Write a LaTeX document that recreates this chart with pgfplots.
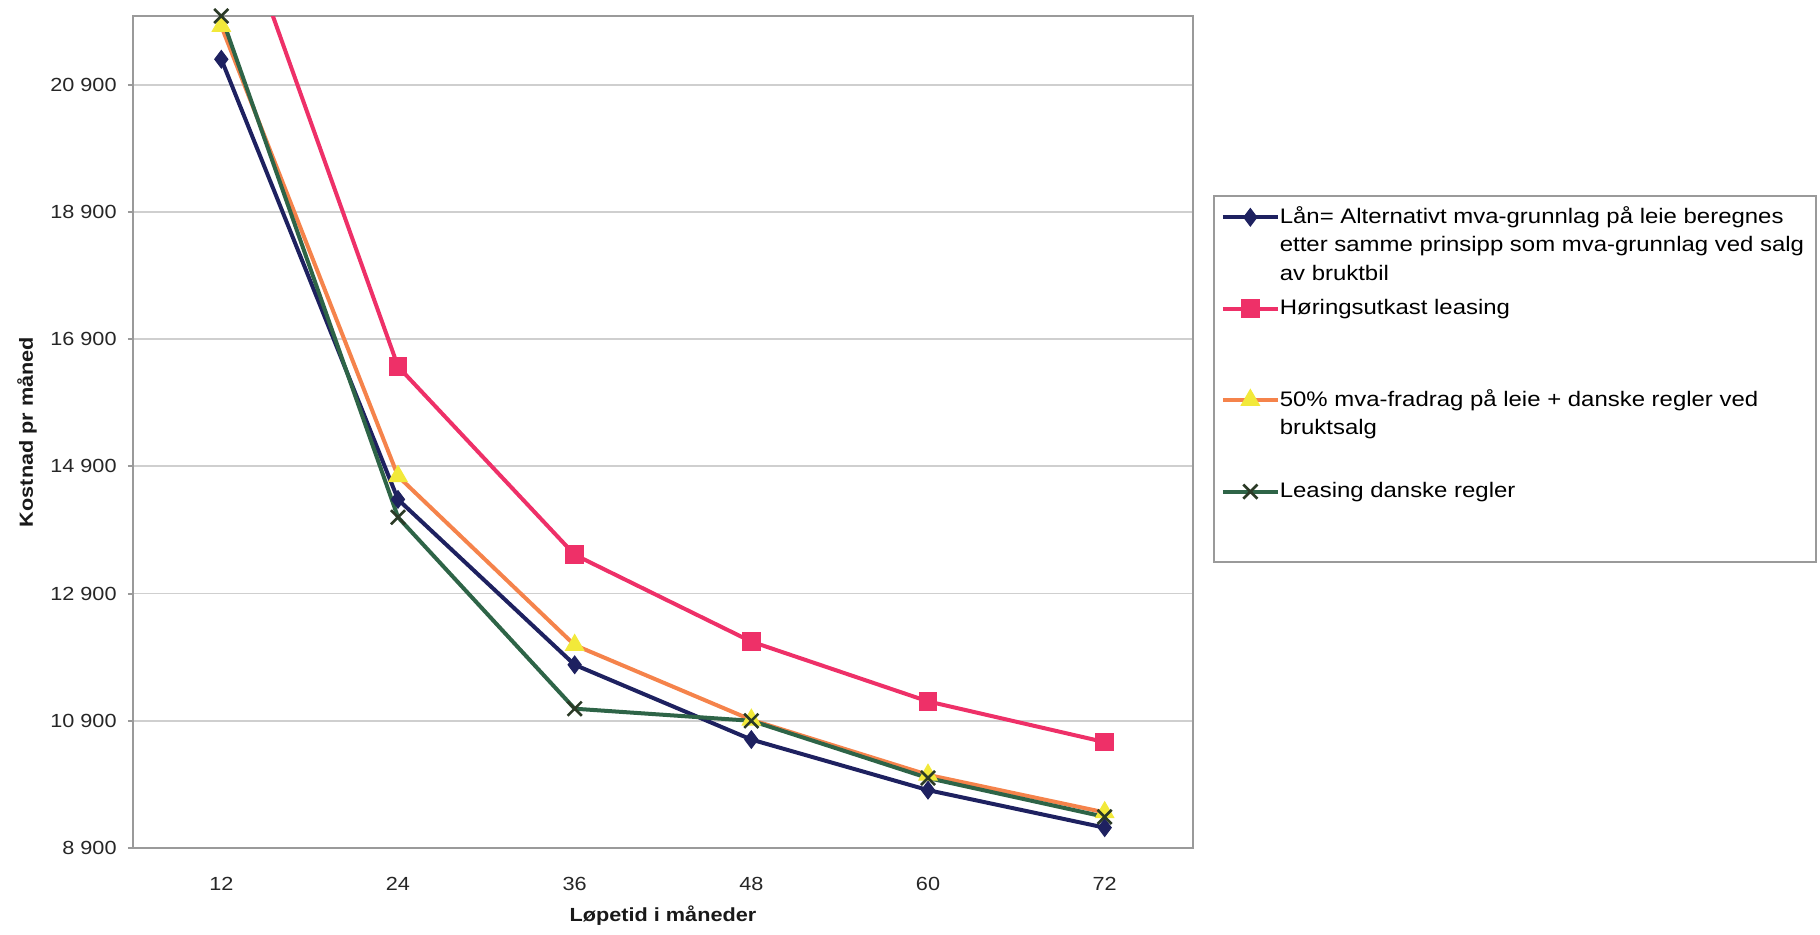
\documentclass[border=0pt]{standalone}
\usepackage{fontspec}
\setmainfont{Liberation Sans}
\usepackage{graphicx}
\usepackage{pgfplots}
\pgfplotsset{compat=1.18}

\definecolor{lanblue}{HTML}{1E2160}
\definecolor{horred}{HTML}{EE3068}
\definecolor{halforange}{HTML}{F5834B}
\definecolor{halfyellow}{HTML}{F2E93A}
\definecolor{dkgreen}{HTML}{2E6447}
\definecolor{xmark}{HTML}{2B3A26}
\definecolor{gridgray}{HTML}{CFCFCF}
\definecolor{framegray}{HTML}{9A9A9A}

% slightly widened sans text
\newcommand{\sx}[1]{\scalebox{1.14}[1]{#1}}
% legend text cell: #1 = raise of the first baseline, #2 = cell height, #3 = text
\newcommand{\legtext}[3]{\raisebox{#1}[#2][0pt]{\sx{\parbox[t]{232pt}{\raggedright #3}}}}

\begin{document}
\begin{tikzpicture}
\useasboundingbox (-66.5pt,-43pt) rectangle (843.5pt,424pt);
\begin{axis}[
  at={(0pt,0pt)}, anchor=south west,
  scale only axis, width=530pt, height=416pt,
  xmin=-0.5, xmax=5.5, ymin=8900, ymax=21980,
  xtick={0,1,2,3,4,5},
  xticklabels={\sx{12},\sx{24},\sx{36},\sx{48},\sx{60},\sx{72}},
  ytick={8900,10900,12900,14900,16900,18900,20900},
  yticklabels={\sx{8 900},\sx{10 900},\sx{12 900},\sx{14 900},\sx{16 900},\sx{18 900},\sx{20 900}},
  ymajorgrids, grid style={gridgray, line width=0.9pt},
  axis line style={framegray, line width=1pt},
  tick align=outside, ytick pos=left,
  xtick style={draw=none},
  ytick style={framegray, line width=1pt},
  major tick length=2.5pt,
  tick label style={font=\fontsize{9.5}{11}\selectfont, text=black!85},
  yticklabel style={anchor=east, inner sep=0pt, xshift=-5.5pt},
  xticklabel style={anchor=north, inner sep=0pt, yshift=-11.75pt},
  xlabel={\sx{\bfseries Løpetid i måneder}},
  ylabel={\sx{\bfseries Kostnad pr måned}},
  label style={font=\fontsize{9.5}{11}\selectfont, text=black!90},
  xlabel style={at={(axis description cs:0.5,-0.0685)}, anchor=north, inner sep=0pt},
  ylabel style={at={(axis description cs:-0.1,0.5)}, anchor=center, inner sep=0pt},
  legend style={
    at={(axis description cs:1.0189,0.7849)}, anchor=north west,
    draw=framegray, line width=0.8pt, fill=white,
    inner xsep=3.5pt, inner ysep=0pt,
    row sep=0pt, column sep=0pt,
    nodes={inner sep=0pt},
    font=\fontsize{10.5}{14.25}\selectfont,
  },
  legend cell align=left,
  legend image code/.code={
    \draw[mark repeat=2,mark phase=2] plot coordinates {(0pt,0pt) (13.75pt,0pt) (27.5pt,0pt)};
  },
]

% Lån = alternativt mva-grunnlag
\addplot[lanblue, line width=2pt, mark=diamond*, mark size=4.4pt,
  mark options={fill=lanblue, draw=lanblue, line width=0.5pt}]
  coordinates {(0,21300) (1,14380) (2,11780) (3,10605) (4,9810) (5,9220)};
\addlegendentry{\legtext{6.24pt}{20pt}{\strut Lån= Alternativt mva-grunnlag på leie beregnes\\
  \strut etter samme prinsipp som mva-grunnlag ved salg\\ \strut av bruktbil}}

% Høringsutkast leasing
\addplot[horred, line width=2pt, mark=square*, mark size=4.4pt,
  mark options={fill=horred, draw=horred, line width=0.5pt}]
  coordinates {(0,24250) (1,16470) (2,13510) (3,12145) (4,11205) (5,10565)};
\addlegendentry{\legtext{30.44pt}{68.4pt}{\strut Høringsutkast leasing}}

% 50 % mva-fradrag + danske regler
\addplot[halforange, line width=2pt, mark=triangle*, mark size=5.3pt,
  mark options={fill=halfyellow, draw=halfyellow, line width=0.5pt}]
  coordinates {(0,21820) (1,14745) (2,12090) (3,10915) (4,10050) (5,9460)};
\addlegendentry{\legtext{6.24pt}{20pt}{\strut 50\% mva-fradrag på leie + danske regler ved\\ \strut bruktsalg}}

% Leasing danske regler
\addplot[dkgreen, line width=2pt, mark=x, mark size=5pt,
  mark options={draw=xmark, line width=1.3pt}]
  coordinates {(0,21980) (1,14100) (2,11090) (3,10900) (4,10000) (5,9390)};
\addlegendentry{\legtext{30.54pt}{68.6pt}{\strut Leasing danske regler}}

\end{axis}
\end{tikzpicture}
\end{document}
